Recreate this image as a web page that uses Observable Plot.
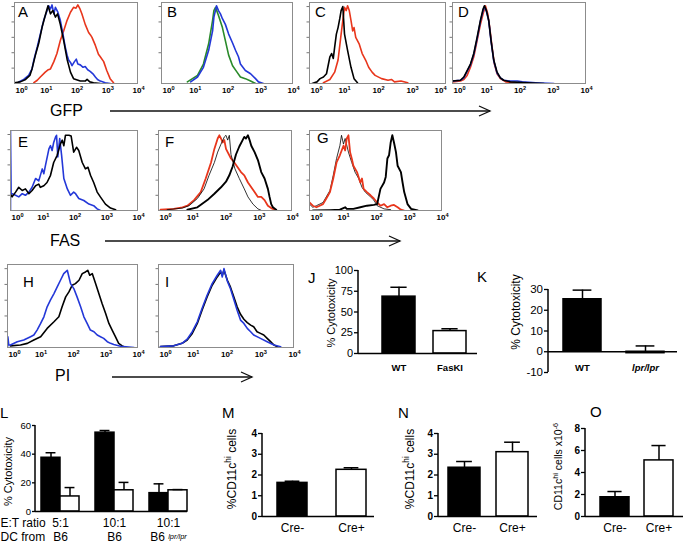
<!DOCTYPE html>
<html><head><meta charset="utf-8">
<script src="https://cdn.jsdelivr.net/npm/d3@7"></script>
<script src="https://cdn.jsdelivr.net/npm/@observablehq/plot@0.6"></script>
<style>
html,body{margin:0;padding:0;background:#fff;}
#fig{position:relative;width:685px;height:548px;overflow:hidden;background:#fff;}
#fig svg{position:absolute;max-width:none;overflow:visible;}
</style></head><body><div id="fig"></div>
<script>
// ================= DATA =================
// histogram x values are log10(fluorescence), y values are relative cell counts
const decades = [0, 1, 2, 3, 4];
const decadeLabels = ["10^{0}", "10^{1}", "10^{2}", "10^{3}", "10^{4}"];
const histYTicks = [0.19, 0.38, 0.57, 0.76, 0.95];

const A_red = [[0.63,0.01],[0.74,0.04],[0.84,0.08],[1.0,0.14],[1.1,0.17],[1.17,0.18],[1.28,0.27],[1.38,0.37],[1.49,0.53],[1.6,0.65],[1.71,0.78],[1.82,0.88],[1.92,0.94],[2.0,0.93],[2.06,0.97],[2.13,0.92],[2.19,0.86],[2.3,0.73],[2.41,0.63],[2.47,0.6],[2.52,0.57],[2.63,0.47],[2.73,0.36],[2.79,0.33],[2.9,0.27],[3.0,0.16],[3.11,0.06],[3.22,0.01]];
const A_blue = [[0.14,0.02],[0.3,0.05],[0.46,0.1],[0.57,0.18],[0.63,0.29],[0.74,0.45],[0.84,0.61],[0.95,0.78],[1.06,0.9],[1.11,0.96],[1.17,0.92],[1.22,0.97],[1.28,0.86],[1.33,0.94],[1.41,0.88],[1.49,0.78],[1.58,0.6],[1.65,0.45],[1.71,0.35],[1.76,0.29],[1.82,0.26],[1.87,0.22],[1.95,0.27],[2.01,0.3],[2.06,0.24],[2.14,0.23],[2.23,0.2],[2.3,0.21],[2.38,0.17],[2.46,0.15],[2.55,0.12],[2.63,0.08],[2.7,0.05],[2.79,0.03],[2.95,0.01],[3.11,0]];
const A_black = [[0,0.01],[0.19,0.02],[0.36,0.05],[0.5,0.1],[0.57,0.18],[0.68,0.35],[0.79,0.5],[0.9,0.7],[1.0,0.84],[1.09,0.96],[1.17,0.86],[1.25,0.9],[1.33,0.82],[1.4,0.86],[1.49,0.73],[1.6,0.53],[1.71,0.3],[1.82,0.14],[1.92,0.06],[2.14,0.03],[2.3,0.03],[2.36,0.05],[2.45,0.02],[2.57,0.01],[2.79,0]];

const B_green = [[0.79,0.02],[1.1,0.1],[1.28,0.24],[1.44,0.49],[1.56,0.78],[1.6,0.9],[1.65,0.94],[1.74,0.84],[1.86,0.69],[1.95,0.53],[2.05,0.35],[2.17,0.22],[2.29,0.15],[2.41,0.08],[2.56,0.06],[2.72,0.03],[2.87,0]];
const B_blue = [[0.89,0.02],[1.1,0.08],[1.28,0.2],[1.44,0.41],[1.56,0.65],[1.6,0.82],[1.68,0.96],[1.74,0.9],[1.8,0.86],[1.86,0.8],[1.95,0.73],[2.05,0.61],[2.17,0.5],[2.26,0.41],[2.35,0.33],[2.41,0.24],[2.56,0.16],[2.72,0.12],[2.87,0.06],[2.96,0.02],[3.11,0]];

const C_red = [[0.41,0.01],[0.6,0.05],[0.74,0.14],[0.84,0.29],[0.93,0.61],[0.98,0.78],[1.03,0.94],[1.08,0.9],[1.12,0.96],[1.17,0.9],[1.22,0.78],[1.27,0.65],[1.31,0.69],[1.36,0.57],[1.46,0.49],[1.55,0.37],[1.65,0.29],[1.74,0.2],[1.84,0.14],[1.93,0.1],[2.12,0.06],[2.31,0.04],[2.41,0.05],[2.5,0.02],[2.69,0.03],[2.89,0.01]];
const C_black = [[0.08,0],[0.22,0.02],[0.31,0.06],[0.41,0.08],[0.5,0.12],[0.6,0.33],[0.65,0.37],[0.7,0.31],[0.74,0.45],[0.79,0.61],[0.84,0.69],[0.89,0.8],[0.93,0.9],[0.98,0.95],[1.03,0.61],[1.12,0.41],[1.22,0.2],[1.31,0.06],[1.41,0.01]];

const D_red = [[0,0.02],[0.24,0.03],[0.34,0.05],[0.44,0.1],[0.54,0.2],[0.64,0.33],[0.74,0.53],[0.84,0.73],[0.92,0.86],[0.99,0.96],[1.06,0.86],[1.12,0.69],[1.19,0.45],[1.26,0.24],[1.34,0.12],[1.44,0.06],[1.6,0.02],[2.0,0]];
const D_blue = [[0,0.03],[0.24,0.04],[0.34,0.07],[0.44,0.15],[0.54,0.23],[0.64,0.36],[0.74,0.55],[0.84,0.77],[0.92,0.9],[0.96,0.95],[1.02,0.89],[1.09,0.77],[1.16,0.52],[1.24,0.28],[1.34,0.13],[1.44,0.07],[1.54,0.04],[1.74,0.03],[1.95,0.03],[2.1,0.02],[2.5,0.01],[3.05,0]];
const D_black = [[0,0.03],[0.24,0.04],[0.34,0.08],[0.44,0.16],[0.54,0.24],[0.64,0.37],[0.74,0.57],[0.84,0.78],[0.92,0.92],[0.96,0.96],[1.02,0.9],[1.09,0.78],[1.16,0.53],[1.24,0.29],[1.34,0.14],[1.44,0.07],[1.54,0.04],[1.74,0.02],[2.24,0.01],[2.75,0]];

const E_blue = [[0,0],[0,1],[0.02,0.21],[0.05,0.21],[0.16,0.19],[0.26,0.17],[0.37,0.21],[0.47,0.19],[0.58,0.23],[0.68,0.29],[0.79,0.4],[0.89,0.37],[1.0,0.52],[1.05,0.46],[1.1,0.56],[1.21,0.77],[1.26,0.81],[1.31,0.75],[1.36,0.85],[1.42,0.92],[1.45,0.94],[1.49,0.67],[1.55,0.9],[1.61,0.69],[1.68,0.4],[1.79,0.27],[1.89,0.19],[1.99,0.23],[2.05,0.21],[2.15,0.15],[2.31,0.125],[2.47,0.08],[2.62,0.06],[2.73,0.02],[2.83,0]];
const E_black = [[0,0.2],[0.05,0.17],[0.16,0.23],[0.26,0.29],[0.37,0.25],[0.47,0.27],[0.58,0.21],[0.68,0.25],[0.79,0.31],[0.89,0.33],[0.94,0.29],[1.05,0.31],[1.15,0.35],[1.26,0.44],[1.36,0.6],[1.47,0.69],[1.57,0.83],[1.63,0.88],[1.68,0.81],[1.73,0.94],[1.84,0.94],[1.91,0.93],[1.99,0.73],[2.08,0.79],[2.15,0.75],[2.26,0.6],[2.36,0.52],[2.44,0.54],[2.52,0.44],[2.62,0.35],[2.73,0.23],[2.83,0.17],[2.99,0.08],[3.15,0.03],[3.31,0.01]];

const F_red = [[0.06,0.01],[0.46,0.02],[0.72,0.04],[0.87,0.06],[1.07,0.13],[1.27,0.23],[1.42,0.4],[1.58,0.6],[1.68,0.77],[1.78,0.9],[1.83,0.94],[1.88,0.9],[1.93,0.85],[1.98,0.88],[2.03,0.77],[2.08,0.73],[2.18,0.65],[2.28,0.6],[2.38,0.54],[2.48,0.48],[2.58,0.44],[2.69,0.35],[2.79,0.29],[2.89,0.23],[2.99,0.17],[3.09,0.17],[3.19,0.13],[3.29,0.06],[3.39,0.03],[3.49,0.01]];
const F_thin = [[0.26,0.01],[0.72,0.03],[0.92,0.06],[1.17,0.15],[1.37,0.27],[1.52,0.44],[1.68,0.6],[1.78,0.73],[1.88,0.83],[1.98,0.92],[2.03,0.94],[2.08,0.88],[2.13,0.94],[2.18,0.7],[2.3,0.52],[2.43,0.4],[2.58,0.27],[2.69,0.17],[2.84,0.08],[2.99,0.02],[3.1,0]];
const F_thick = [[0.87,0.01],[1.17,0.04],[1.47,0.13],[1.68,0.21],[1.88,0.29],[2.03,0.36],[2.13,0.44],[2.23,0.55],[2.33,0.7],[2.43,0.8],[2.53,0.88],[2.58,0.92],[2.63,0.9],[2.69,0.94],[2.74,0.88],[2.79,0.81],[2.89,0.73],[2.99,0.63],[3.09,0.48],[3.19,0.4],[3.29,0.27],[3.34,0.17],[3.39,0.08],[3.44,0.04],[3.54,0.01]];

const G_thin = [[0,0.08],[0.1,0.04],[0.21,0.06],[0.41,0.1],[0.62,0.25],[0.72,0.44],[0.82,0.65],[0.92,0.81],[0.97,0.94],[1.03,0.83],[1.08,0.9],[1.18,0.73],[1.28,0.6],[1.38,0.48],[1.49,0.4],[1.59,0.29],[1.69,0.23],[1.85,0.17],[1.95,0.13],[2.05,0.06],[2.26,0.02],[2.46,0.01]];
const G_red = [[0,0.1],[0.1,0.06],[0.21,0.04],[0.31,0.06],[0.41,0.08],[0.51,0.15],[0.62,0.23],[0.72,0.4],[0.82,0.6],[0.92,0.69],[1.03,0.81],[1.08,0.75],[1.13,0.9],[1.18,0.94],[1.23,0.73],[1.28,0.65],[1.33,0.56],[1.44,0.48],[1.54,0.35],[1.59,0.4],[1.64,0.27],[1.74,0.23],[1.85,0.19],[1.95,0.15],[2.05,0.1],[2.15,0.06],[2.26,0.08],[2.36,0.04],[2.46,0.06],[2.56,0.07],[2.67,0.04],[2.77,0.01],[2.87,0]];
const G_thick = [[0.1,0],[0.62,0.005],[0.92,0.01],[1.08,0.04],[1.13,0.02],[1.33,0.02],[1.54,0.04],[1.74,0.06],[1.95,0.07],[2.05,0.08],[2.15,0.27],[2.26,0.35],[2.31,0.42],[2.36,0.65],[2.41,0.69],[2.46,0.85],[2.51,0.94],[2.56,0.85],[2.62,0.73],[2.67,0.56],[2.77,0.48],[2.82,0.35],[2.87,0.23],[2.97,0.08],[3.08,0.02],[3.28,0]];

const H_black = [[0.09,0.02],[0.4,0.03],[0.61,0.05],[0.81,0.09],[1.02,0.13],[1.22,0.23],[1.43,0.31],[1.58,0.37],[1.68,0.49],[1.79,0.61],[1.89,0.67],[1.99,0.75],[2.09,0.77],[2.2,0.81],[2.3,0.89],[2.4,0.91],[2.47,0.93],[2.53,0.87],[2.61,0.89],[2.71,0.77],[2.81,0.65],[2.91,0.53],[3.02,0.41],[3.12,0.29],[3.22,0.21],[3.32,0.13],[3.42,0.05],[3.53,0.02],[3.63,0]];
const H_blue = [[0,0],[0.01,0.13],[0.04,0.03],[0.09,0.03],[0.3,0.07],[0.5,0.09],[0.71,0.13],[0.81,0.15],[0.91,0.21],[1.02,0.29],[1.12,0.37],[1.22,0.49],[1.32,0.57],[1.43,0.65],[1.53,0.73],[1.63,0.81],[1.73,0.89],[1.84,0.93],[1.89,0.85],[1.94,0.77],[2.04,0.71],[2.14,0.61],[2.25,0.49],[2.35,0.37],[2.45,0.29],[2.55,0.21],[2.66,0.19],[2.76,0.15],[2.86,0.13],[2.96,0.11],[3.07,0.07],[3.17,0.05],[3.27,0.036],[3.48,0.016],[3.89,0]];

const I_black = [[0.06,0.01],[0.45,0.02],[0.7,0.05],[0.85,0.09],[1.0,0.17],[1.15,0.29],[1.29,0.45],[1.44,0.61],[1.59,0.75],[1.74,0.85],[1.84,0.91],[1.89,0.87],[1.94,0.93],[2.04,0.81],[2.13,0.73],[2.23,0.61],[2.33,0.49],[2.43,0.4],[2.53,0.34],[2.63,0.3],[2.73,0.27],[2.82,0.25],[2.92,0.19],[3.02,0.17],[3.12,0.15],[3.22,0.11],[3.32,0.07],[3.42,0.03],[3.52,0.01]];
const I_blue = [[0.06,0.01],[0.45,0.02],[0.7,0.05],[0.85,0.1],[1.0,0.19],[1.15,0.31],[1.29,0.47],[1.44,0.63],[1.59,0.77],[1.74,0.87],[1.84,0.93],[1.89,0.85],[1.94,0.95],[2.04,0.8],[2.13,0.71],[2.23,0.58],[2.33,0.45],[2.43,0.33],[2.53,0.29],[2.63,0.23],[2.73,0.19],[2.82,0.15],[3.02,0.11],[3.22,0.07],[3.42,0.03],[3.62,0.01]];

// bar charts
const J_cats = ["WT", "FasKI"];
const J_vals = [68.5, 27];
const J_errs = [11.3, 2.8];
const J_ticks = [0, 25, 50, 75, 100];

const K_cats = ["WT", "lpr/lpr"];
const K_vals = [25.3, -0.7];
const K_errs = [4.4, 3.5];
const K_ticks = [-10, 0, 10, 20, 30];

const L_ratio = ["5:1", "10:1", "10:1"];
const L_dc = ["B6", "B6", "B6 lpr/lpr"];
const L_black = [37.5, 55, 12.8];
const L_blackErr = [3.5, 1.5, 6.5];
const L_white = [10.5, 14.8, 14.8];
const L_whiteErr = [6.2, 5.5, 0.5];
const L_ticks = [0, 20, 40, 60];
const L_rowNames = ["E:T ratio", "DC from"];

const CRE_cats = ["Cre-", "Cre+"];
const M_vals = [1.62, 2.25];
const M_errs = [0.08, 0.1];
const N_vals = [2.35, 3.1];
const N_errs = [0.3, 0.48];
const MN_ticks = [0, 1, 2, 3, 4];
const O_vals = [1.75, 5.1];
const O_errs = [0.52, 1.35];
const O_ticks = [0, 2, 4, 6, 8];

// ================= HELPERS =================
const FONT = "'Liberation Sans', Arial, Helvetica, sans-serif";
const SVGNS = "http://www.w3.org/2000/svg";
const fig = document.getElementById("fig");
const plotStyle = {fontFamily: FONT, fontSize: "10px", background: "none", overflow: "visible", color: "black"};
const RED = "#e8361c", BLUE = "#2438d8", GREEN = "#2a8a2a";

function richify(root) {
  root.querySelectorAll("text, tspan").forEach(el => {
    if (el.children.length) return;
    const s = el.textContent;
    if (!/[\^*]i?\{/.test(s)) return;
    el.textContent = "";
    const re = /(\^i|\^|\*)\{([^}]*)\}/g;
    let last = 0, m;
    while ((m = re.exec(s))) {
      if (m.index > last) el.appendChild(document.createTextNode(s.slice(last, m.index)));
      const t = document.createElementNS(SVGNS, "tspan");
      if (m[1] === "^") { t.setAttribute("baseline-shift", "super"); t.setAttribute("font-size", "70%"); }
      if (m[1] === "^i") { t.setAttribute("baseline-shift", "30%"); t.setAttribute("font-size", "62%"); }
      if (m[1] !== "^") t.setAttribute("font-style", "italic");
      t.textContent = m[2];
      el.appendChild(t);
      last = re.lastIndex;
    }
    if (last < s.length) el.appendChild(document.createTextNode(s.slice(last)));
  });
}
function mount(plot, left, top) {
  plot.style.position = "absolute";
  plot.style.left = left + "px";
  plot.style.top = top + "px";
  plot.style.maxWidth = "none";
  plot.style.overflow = "visible";
  fig.appendChild(plot);
  richify(plot);
}
function yAxisLine(sw) {
  return (index, scales, values, dims) => {
    const l = document.createElementNS(SVGNS, "line");
    l.setAttribute("x1", dims.marginLeft); l.setAttribute("x2", dims.marginLeft);
    l.setAttribute("y1", dims.marginTop); l.setAttribute("y2", dims.height - dims.marginBottom);
    l.setAttribute("stroke", "black"); l.setAttribute("stroke-width", sw);
    return l;
  };
}

const HM = {l: 14, r: 14, t: 4, b: 16};
function histogram(box, curves, lastEnd) {
  const [x0, x1, y0, y1] = box;
  const plot = Plot.plot({
    width: x1 - x0 + HM.l + HM.r, height: y1 - y0 + HM.t + HM.b,
    marginLeft: HM.l, marginRight: HM.r, marginTop: HM.t, marginBottom: HM.b,
    x: {domain: [0, 4]}, y: {domain: [0, 1]},
    style: plotStyle,
    marks: [
      ...curves.map(c => Plot.line(c.data, {x: d => d[0], y: d => d[1], stroke: c.color, strokeWidth: c.width || 1.6, clip: true})),
      Plot.frame({stroke: "#8c8c8c", strokeWidth: 1}),
      Plot.axisY({ticks: histYTicks, tickSize: 2.5, tickFormat: () => "", stroke: "#777", label: null}),
      Plot.axisX({ticks: decades, tickSize: 0, tickPadding: 4, dx: 1, tickFormat: d => decadeLabels[decades.indexOf(d)], fontSize: 8, label: null})
    ]
  });
  mount(plot, x0 - HM.l, y0 - HM.t);
  const labels = [...plot.querySelectorAll("text")].filter(t => t.firstChild && t.firstChild.nodeType === 3 && t.firstChild.nodeValue === "10" && t.querySelector("tspan"));
  labels.forEach(t => { t.setAttribute("font-weight", "bold"); t.setAttribute("font-size", "8"); });
  if (labels.length) {
    labels[0].setAttribute("text-anchor", "start");
    if (lastEnd) labels[labels.length - 1].setAttribute("text-anchor", "end");
  }
}

function barPanel(o) {
  const [x0, x1, y0, y1] = o.frame;
  const ml = o.ml, mr = 8, mt = 8, mb = 32;
  const off = ml - x0;
  const n = o.cats.length;
  const step = (o.band[1] - o.band[0]) / (n - o.pi);
  const bw = step * (1 - o.pi);
  const rows = o.cats.map((c, i) => ({c, v: o.vals[i], top: o.vals[i] + o.errs[i]}));
  const plot = Plot.plot({
    width: ml + (x1 - x0) + mr, height: mt + (y1 - y0) + mb,
    marginLeft: ml, marginRight: mr, marginTop: mt, marginBottom: mb,
    x: {type: "band", domain: o.cats, range: [o.band[0] + off, o.band[1] + off], paddingInner: o.pi, paddingOuter: 0, axis: null},
    y: {domain: o.yDomain},
    color: {type: "ordinal", domain: o.cats, range: o.fills},
    style: plotStyle,
    marks: [
      Plot.barY(rows, {x: "c", y: "v", fill: "c", stroke: "black", strokeWidth: 1.5}),
      Plot.ruleX(rows, {x: "c", y1: "v", y2: "top", strokeWidth: 1.5}),
      Plot.tickY(rows, {x: "c", y: "top", strokeWidth: 1.5, insetLeft: bw / 4, insetRight: bw / 4}),
      Plot.ruleY([0], {strokeWidth: 1.5}),
      yAxisLine(1.5),
      Plot.axisY({ticks: o.yTicks, tickFormat: d => String(d), tickSize: o.tickSize, tickPadding: 1.5, strokeWidth: 1.3, fontSize: o.tickFontSize, label: null}),
      Plot.text(rows, {x: "c", text: d => o.catFormat ? o.catFormat(d.c) : d.c, frameAnchor: "bottom", dy: o.catDy, fontSize: o.catSize, fontWeight: o.catWeight || "normal"}),
      Plot.text([o.ylabel], {text: d => d, frameAnchor: "left", textAnchor: "middle", rotate: -90, dx: o.labelDx, dy: o.labelDy, fontSize: o.labelSize})
    ]
  });
  mount(plot, x0 - ml, y0 - mt);
  const tickStrings = o.yTicks.map(String);
  plot.querySelectorAll("text").forEach(t => {
    if (tickStrings.includes(t.textContent)) {
      t.setAttribute("font-weight", o.tickWeight || "normal");
      t.setAttribute("font-size", o.tickFontSize);
    }
  });
}

// ================= HISTOGRAMS =================
histogram([14, 137, 2, 83], [{data: A_red, color: RED}, {data: A_blue, color: BLUE}, {data: A_black, color: "black"}]);
histogram([161, 292, 2, 83], [{data: B_green, color: GREEN}, {data: B_blue, color: BLUE}]);
histogram([309, 445, 2, 83], [{data: C_red, color: RED}, {data: C_black, color: "black"}], true);
histogram([452, 585, 2, 83], [{data: D_red, color: RED}, {data: D_blue, color: BLUE}, {data: D_black, color: "black"}]);
histogram([10, 137, 130, 210], [{data: E_blue, color: BLUE}, {data: E_black, color: "black"}]);
histogram([158, 291, 130, 210], [{data: F_red, color: RED, width: 1.8}, {data: F_thin, color: "black", width: 0.8}, {data: F_thick, color: "black", width: 1.9}]);
histogram([309, 441, 130, 210], [{data: G_thin, color: "black", width: 0.8}, {data: G_red, color: RED, width: 1.8}, {data: G_thick, color: "black", width: 1.9}]);
histogram([7, 137, 264, 347], [{data: H_black, color: "black"}, {data: H_blue, color: BLUE}]);
histogram([158, 293, 264, 347], [{data: I_black, color: "black"}, {data: I_blue, color: BLUE}]);

// ================= BAR CHARTS =================
barPanel({frame: [358, 477, 270, 353], ml: 50, cats: J_cats, vals: J_vals, errs: J_errs, fills: ["black", "white"],
  band: [382, 467], pi: 0.35, yDomain: [0, 100], yTicks: J_ticks, tickSize: 4, tickFontSize: 11,
  catDy: 17, catSize: 9.5, catWeight: "bold", ylabel: "% Cytotoxicity", labelDx: -27, labelDy: 1, labelSize: 11});
barPanel({frame: [548, 677, 289, 372], ml: 50, cats: K_cats, vals: K_vals, errs: K_errs, fills: ["black", "black"],
  band: [563, 665], pi: 0.394, yDomain: [-10, 30], yTicks: K_ticks, tickSize: 4, tickFontSize: 11.5,
  catDy: -2, catSize: 9.5, catWeight: "bold", catFormat: c => c === "lpr/lpr" ? "*{lpr/lpr}" : c,
  ylabel: "% Cytotoxicity", labelDx: -32, labelDy: -19, labelSize: 12});
barPanel({frame: [262, 374, 433, 516], ml: 40, cats: CRE_cats, vals: M_vals, errs: M_errs, fills: ["black", "white"],
  band: [277, 367], pi: 0.487, yDomain: [0, 4], yTicks: MN_ticks, tickSize: 4, tickFontSize: 10, tickWeight: "bold",
  catDy: 15, catSize: 12, ylabel: "%CD11c^{hi} cells", labelDx: -30, labelDy: -6, labelSize: 12});
barPanel({frame: [438, 537, 433, 516], ml: 40, cats: CRE_cats, vals: N_vals, errs: N_errs, fills: ["black", "white"],
  band: [448, 529], pi: 0.33, yDomain: [0, 4], yTicks: MN_ticks, tickSize: 4, tickFontSize: 10, tickWeight: "bold",
  catDy: 15, catSize: 12, ylabel: "%CD11c^{hi} cells", labelDx: -28, labelDy: -6, labelSize: 12});
barPanel({frame: [585, 683, 428, 516], ml: 40, cats: CRE_cats, vals: O_vals, errs: O_errs, fills: ["black", "white"],
  band: [599, 673.5], pi: 0.337, yDomain: [0, 8], yTicks: O_ticks, tickSize: 4, tickFontSize: 10, tickWeight: "bold",
  catDy: 15, catSize: 12, ylabel: "CD11c^{hi} cells x10^{-6}", labelDx: -27, labelDy: -6, labelSize: 10.5});

// Panel L (grouped bars)
(function () {
  const x0 = 35, x1 = 187, y0 = 425, y1 = 511, ml = 42, mr = 6, mt = 8, mb = 37;
  const off = ml - x0;
  const groups = L_ratio.map((r, i) => i);
  const pi = 0.303, bandStart = 40, bandEnd = 187;
  const step = (bandEnd - bandStart) / (groups.length - pi);
  const half = step * (1 - pi) / 2, cap = half * 0.24;
  const rows = groups.map(i => ({g: i, b: L_black[i], bt: L_black[i] + L_blackErr[i], w: L_white[i], wt: L_white[i] + L_whiteErr[i], r: L_ratio[i], dc: L_dc[i]}));
  const plot = Plot.plot({
    width: ml + (x1 - x0) + mr, height: mt + (y1 - y0) + mb,
    marginLeft: ml, marginRight: mr, marginTop: mt, marginBottom: mb,
    x: {type: "band", domain: groups, range: [bandStart + off, bandEnd + off], paddingInner: pi, paddingOuter: 0, axis: null},
    y: {domain: [0, 60]},
    style: plotStyle,
    marks: [
      Plot.barY(rows, {x: "g", y: "b", fill: "black", stroke: "black", strokeWidth: 1.5, insetRight: half}),
      Plot.barY(rows, {x: "g", y: "w", fill: "white", stroke: "black", strokeWidth: 1.5, insetLeft: half}),
      Plot.ruleX(rows, {x: "g", y1: "b", y2: "bt", dx: -half / 2, strokeWidth: 1.5}),
      Plot.ruleX(rows, {x: "g", y1: "w", y2: "wt", dx: half / 2, strokeWidth: 1.5}),
      Plot.tickY(rows, {x: "g", y: "bt", insetLeft: cap, insetRight: half + cap, strokeWidth: 1.5}),
      Plot.tickY(rows, {x: "g", y: "wt", insetLeft: half + cap, insetRight: cap, strokeWidth: 1.5}),
      Plot.ruleY([0], {strokeWidth: 1.5}),
      yAxisLine(1.5),
      Plot.axisY({ticks: L_ticks, tickFormat: d => String(d), tickSize: 3, tickPadding: 1.5, strokeWidth: 1.3, fontSize: 9.5, label: null}),
      Plot.text(rows, {x: "g", text: "r", frameAnchor: "bottom", dy: 15, fontSize: 12}),
      Plot.text(rows, {x: "g", text: d => d.dc.replace(" lpr/lpr", " ^i{lpr/lpr}"), frameAnchor: "bottom", dy: 29.5, fontSize: 12}),
      Plot.text([L_rowNames[0]], {text: d => d, frameAnchor: "bottom-left", textAnchor: "start", dx: -35, dy: 15, fontSize: 12}),
      Plot.text([L_rowNames[1]], {text: d => d, frameAnchor: "bottom-left", textAnchor: "start", dx: -35, dy: 29.5, fontSize: 12}),
      Plot.text(["% Cytotoxicity"], {text: d => d, frameAnchor: "left", textAnchor: "middle", rotate: -90, dx: -27, dy: 3, fontSize: 11})
    ]
  });
  mount(plot, x0 - ml, y0 - mt);
  plot.querySelectorAll("text").forEach(t => { if (L_ticks.map(String).includes(t.textContent)) t.setAttribute("font-size", 9.5); });
})();

// ================= OVERLAY: panel letters, axis names, arrows =================
const ov = d3.select(fig).append("svg").attr("width", 685).attr("height", 548)
  .style("left", "0px").style("top", "0px").attr("font-family", FONT);
const letters = [["A",18,17],["B",167,17],["C",315,17],["D",458,17],["E",18,147],["F",165,147],["G",317,143],["H",23,287],["I",165,287],["J",308,283],["K",477,282],["L",0,418],["M",222,418],["N",398,418],["O",590,417]];
ov.selectAll("text.letter").data(letters).join("text").attr("class", "letter")
  .attr("x", d => d[1]).attr("y", d => d[2]).attr("font-size", 15).text(d => d[0]);
const axisNames = [["GFP", 50, 116, 110, 490, 111], ["FAS", 50, 246, 105, 400, 241], ["PI", 55, 381, 112, 252, 377]];
axisNames.forEach(([t, tx, ty, ax0, ax1, ay]) => {
  ov.append("text").attr("x", tx).attr("y", ty).attr("font-size", 16).text(t);
  ov.append("line").attr("x1", ax0).attr("x2", ax1).attr("y1", ay).attr("y2", ay).attr("stroke", "#111").attr("stroke-width", 1.3);
  ov.append("path").attr("d", `M${ax1 - 11},${ay - 5}L${ax1},${ay}L${ax1 - 11},${ay + 5}`).attr("fill", "none").attr("stroke", "#111").attr("stroke-width", 1.3);
});
</script>
</body></html>
